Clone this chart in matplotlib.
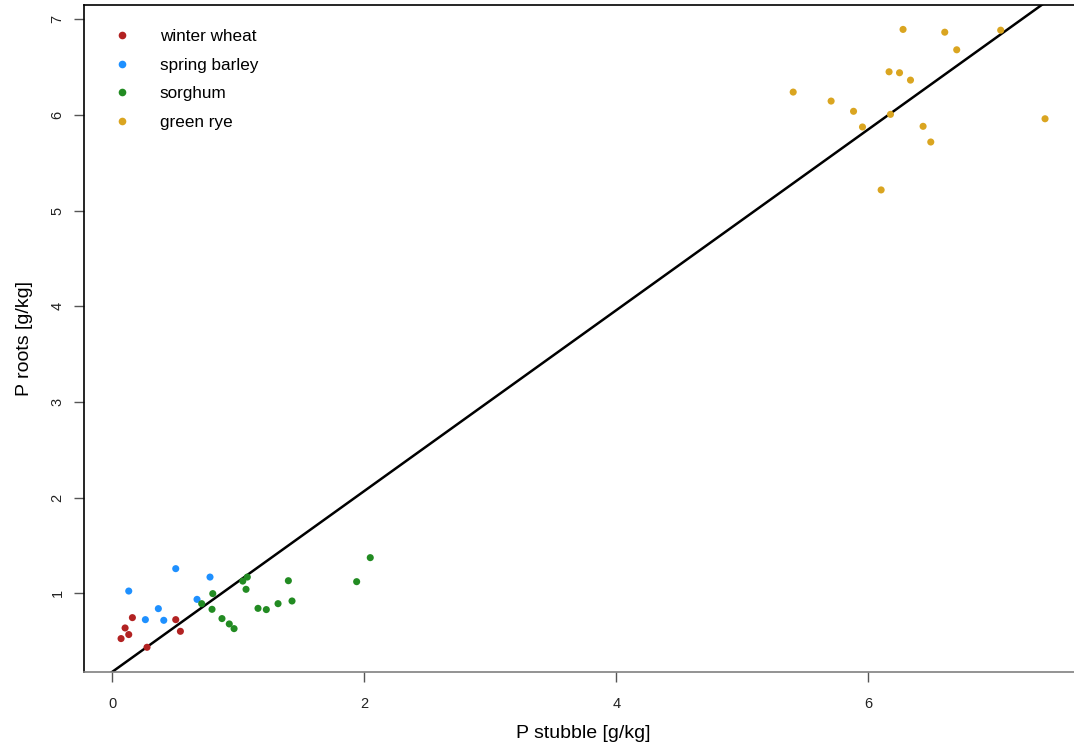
import numpy as np
import matplotlib
matplotlib.use("Agg")
import matplotlib.pyplot as plt
from matplotlib.lines import Line2D

plt.rcParams['font.family'] = ['Liberation Sans', 'DejaVu Sans']

# P concentration in stubble (x) and roots (y), g/kg
wheat_x = [0.069, 0.101, 0.130, 0.159, 0.275, 0.503, 0.540]
wheat_y = [0.527, 0.638, 0.569, 0.746, 0.436, 0.725, 0.603]

barley_x = [0.130, 0.262, 0.365, 0.408, 0.503, 0.672, 0.775]
barley_y = [1.024, 0.725, 0.840, 0.718, 1.258, 0.937, 1.170]

sorghum_x = [0.709, 0.797, 0.791, 0.870, 0.928, 0.966, 1.035, 1.071,
             1.061, 1.156, 1.222, 1.315, 1.397, 1.426, 1.939, 2.047]
sorghum_y = [0.892, 0.997, 0.833, 0.736, 0.680, 0.631, 1.128, 1.170,
             1.042, 0.843, 0.830, 0.892, 1.132, 0.920, 1.122, 1.373]

rye_x = [5.404, 5.705, 5.883, 5.954, 6.102, 6.165, 6.248, 6.176,
         6.276, 6.335, 6.607, 6.702, 7.051, 6.435, 6.496, 7.403]
rye_y = [6.240, 6.146, 6.039, 5.875, 5.217, 6.452, 6.442, 6.007,
         6.895, 6.365, 6.866, 6.682, 6.887, 5.882, 5.718, 5.961]

crops = ["winter wheat", "spring barley", "sorghum", "green rye"]
colors = ["#B22222", "#1E90FF", "#228B22", "#DAA520"]

# fitted line
intercept = 0.18
slope = 0.945

xs = [wheat_x, barley_x, sorghum_x, rye_x]
ys = [wheat_y, barley_y, sorghum_y, rye_y]

fig = plt.figure(figsize=(10.74, 7.5), dpi=100)
ax = fig.add_axes([84.1 / 1074, 78 / 750, (1082 - 84.1) / 1074, (672 - 4.7) / 750])

for x, y, c in zip(xs, ys, colors):
    ax.scatter(x, y, s=26, color=c, edgecolors='none', zorder=3)

# R-style 4% axis expansion
allx = np.concatenate([np.asarray(v) for v in xs])
ally = np.concatenate([np.asarray(v) for v in ys])
dx = 0.04 * (allx.max() - allx.min())
dy = 0.04 * (ally.max() - ally.min())
ax.set_xlim(allx.min() - dx, allx.max() + dx)
ax.set_ylim(ally.min() - dy, ally.max() + dy)

lx = np.array(ax.get_xlim())
ax.plot(lx, intercept + slope * lx, color='black', lw=1.8, zorder=2)

ax.set_xticks([0, 2, 4, 6])
ax.set_yticks([1, 2, 3, 4, 5, 6, 7])
ax.tick_params(axis='both', direction='out', length=7, width=1, color='#555555',
               labelsize=10.5, labelcolor='#222222')
ax.tick_params(axis='x', pad=11)
ax.tick_params(axis='y', pad=7)
for lab in ax.get_yticklabels():
    lab.set_rotation(90)
    lab.set_va('center')

ax.spines['right'].set_visible(False)
ax.spines['left'].set_color('black')
ax.spines['top'].set_color('black')
ax.spines['bottom'].set_color('#808080')
for s in ax.spines.values():
    s.set_linewidth(1.2)

ax.set_xlabel("P stubble [g/kg]", fontsize=14, labelpad=10)
ax.set_ylabel("P roots [g/kg]", fontsize=14, labelpad=13)

handles = [Line2D([], [], ls='none', marker='o', ms=5.5, color=c, mec='none') for c in colors]
ax.legend(handles, crops, loc='upper left', bbox_to_anchor=(0.0295, 0.9636), frameon=False,
          fontsize=12.3, handlelength=1.0, handletextpad=1.7, labelspacing=0.80,
          borderpad=0, borderaxespad=0)

fig.savefig("out.png", dpi=100)
